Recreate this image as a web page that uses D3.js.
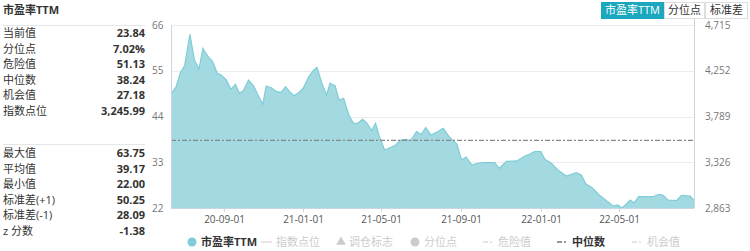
<!DOCTYPE html>
<html>
<head>
<meta charset="utf-8">
<script src="https://cdn.jsdelivr.net/npm/d3@7"></script>
<style>
  body { margin: 0; background: #fff; }
  svg { font-family: "Open Sans", "Noto Sans CJK SC", sans-serif; }
</style>
</head>
<body>
<svg id="fig" width="750" height="251"></svg>
<script>
// stats on the left
const statTop = [['当前值', '23.84'], ['分位点', '7.02%'], ['危险值', '51.13'], ['中位数', '38.24'], ['机会值', '27.18'], ['指数点位', '3,245.99']];
const statBottom = [['最大值', '63.75'], ['平均值', '39.17'], ['最小值', '22.00'], ['标准差(+1)', '50.25'], ['标准差(-1)', '28.09'], ['z 分数', '-1.38']];

const peDates = ['2020-06-12', '2020-06-20', '2020-06-26', '2020-07-03', '2020-07-11', '2020-07-18', '2020-07-25', '2020-07-31',
  '2020-08-08', '2020-08-15', '2020-08-22', '2020-08-28', '2020-09-05', '2020-09-12', '2020-09-19', '2020-09-25',
  '2020-10-01', '2020-10-09', '2020-10-17', '2020-10-23', '2020-10-31', '2020-11-05', '2020-11-13', '2020-11-21',
  '2020-11-28', '2020-12-05', '2020-12-11', '2020-12-18', '2020-12-25', '2021-01-01', '2021-01-09', '2021-01-16',
  '2021-01-22', '2021-01-30', '2021-02-06', '2021-02-11', '2021-02-19', '2021-02-25', '2021-03-04', '2021-03-12',
  '2021-03-19', '2021-03-26', '2021-04-02', '2021-04-08', '2021-04-16', '2021-04-22', '2021-04-28', '2021-05-06',
  '2021-05-16', '2021-05-23', '2021-05-31', '2021-06-08', '2021-06-15', '2021-06-24', '2021-07-01', '2021-07-08',
  '2021-07-16', '2021-07-26', '2021-08-04', '2021-08-13', '2021-08-25', '2021-09-01', '2021-09-08', '2021-09-17',
  '2021-09-27', '2021-10-08', '2021-10-22', '2021-10-29', '2021-11-09', '2021-11-25', '2021-12-06', '2021-12-15',
  '2021-12-23', '2022-01-01', '2022-01-07', '2022-01-17', '2022-01-27', '2022-02-09', '2022-02-17', '2022-02-24',
  '2022-03-04', '2022-03-11', '2022-03-20', '2022-04-01', '2022-04-11', '2022-04-22', '2022-04-29', '2022-05-05',
  '2022-05-12', '2022-05-18', '2022-05-24', '2022-05-31', '2022-06-09', '2022-06-22', '2022-07-01', '2022-07-07',
  '2022-07-15', '2022-07-28', '2022-08-05', '2022-08-18', '2022-08-24'];
const peValues = [49.34, 51.17, 54.39, 56.22, 63.75, 57.59, 55.42, 60.40,
  58.38, 57.18, 54.39, 53.98, 52.78, 50.54, 51.74, 49.58,
  50.21, 52.78, 51.34, 49.34, 46.94, 51.34, 50.93, 49.97,
  49.82, 51.17, 49.97, 49.00, 49.72, 50.78, 53.43, 54.94,
  55.83, 51.82, 49.17, 51.98, 51.41, 47.97, 48.38, 44.36,
  42.37, 42.37, 43.33, 42.56, 40.59, 42.37, 39.15, 35.95,
  36.60, 37.15, 38.35, 38.52, 38.19, 40.35, 39.68, 41.36,
  39.56, 40.35, 41.17, 39.15, 37.39, 33.55, 34.27, 32.34,
  32.82, 32.90, 32.90, 31.55, 33.19, 33.31, 34.39, 34.99,
  35.59, 35.54, 33.71, 32.75, 31.14, 29.70, 30.11, 30.49,
  29.94, 27.78, 26.94, 25.06, 23.81, 22.49, 22.73, 22.00,
  22.90, 23.93, 23.21, 24.72, 24.72, 24.72, 25.30, 25.13,
  23.93, 23.76, 25.06, 24.89, 23.84];

const leftTicks = [22, 33, 44, 55, 66];
const rightTicks = [2863, 3326, 3789, 4252, 4715];
const xTicks = ['2020-09-01', '2021-01-01', '2021-05-01', '2021-09-01', '2022-01-01', '2022-05-01'];
const median = 38.24;
const buttons = ['市盈率TTM', '分位点', '标准差'];
const legendItems = [
  { name: '市盈率TTM', type: 'circle', on: true },
  { name: '指数点位', type: 'line', on: false },
  { name: '调仓标志', type: 'triangle', on: false },
  { name: '分位点', type: 'circle', on: false },
  { name: '危险值', type: 'dash', on: false },
  { name: '中位数', type: 'dash', on: true },
  { name: '机会值', type: 'dash', on: false }
];

const svg = d3.select('#fig');
const parse = d3.timeParse('%Y-%m-%d');
const data = peDates.map((d, i) => ({ date: parse(d), value: peValues[i] }));

const margin = { left: 171, right: 694, top: 25, bottom: 208 };
const x = d3.scaleTime().domain(d3.extent(data, d => d.date)).range([margin.left, margin.right]);
const y = d3.scaleLinear().domain([22, 66]).range([margin.bottom, margin.top]);
const y2 = d3.scaleLinear().domain([2863, 4715]).range([margin.bottom, margin.top]);

// ---- left panel
svg.append('text').attr('x', 3).attr('y', 14).text('市盈率TTM')
  .attr('font-size', 11).attr('font-weight', 'bold').attr('fill', '#333');

const drawStats = (rows, sepY, firstY) => {
  svg.append('line').attr('x1', 3).attr('x2', 145).attr('y1', sepY).attr('y2', sepY)
    .attr('stroke', '#e6e6e6');
  const g = svg.append('g');
  rows.forEach((r, i) => {
    const yy = firstY + i * 15.5;
    g.append('text').attr('x', 3).attr('y', yy).attr('dy', '0.35em').text(r[0])
      .attr('font-size', 11).attr('fill', '#333');
    g.append('text').attr('x', 145).attr('y', yy).attr('dy', '0.35em').text(r[1])
      .attr('text-anchor', 'end').attr('font-size', 11).attr('font-weight', 'bold').attr('fill', '#333');
  });
};
drawStats(statTop, 25.5, 33.5);
drawStats(statBottom, 144.5, 153.5);

// ---- buttons
const btnX = [601, 664, 705, 748];
const btn = svg.append('g');
buttons.forEach((b, i) => {
  btn.append('rect').attr('x', btnX[i] + 0.5).attr('y', 2.5)
    .attr('width', btnX[i + 1] - btnX[i] - 1).attr('height', 16)
    .attr('fill', i === 0 ? '#1ba7bd' : '#fff').attr('stroke', i === 0 ? '#1ba7bd' : '#ddd');
  btn.append('text').attr('x', (btnX[i] + btnX[i + 1]) / 2).attr('y', 10.5).attr('dy', '0.35em')
    .attr('text-anchor', 'middle').attr('font-size', 11)
    .attr('fill', i === 0 ? '#fff' : '#333').text(b);
});

// ---- grid
svg.append('g').selectAll('line').data(leftTicks.slice(1)).join('line')
  .attr('x1', margin.left).attr('x2', margin.right)
  .attr('y1', d => Math.round(y(d)) + 0.5).attr('y2', d => Math.round(y(d)) + 0.5)
  .attr('stroke', '#ececec');

// ---- area
const area = d3.area().x(d => x(d.date)).y0(y(22)).y1(d => y(d.value));
const line = d3.line().x(d => x(d.date)).y(d => y(d.value));
svg.append('path').datum(data).attr('d', area).attr('fill', '#a3d9e0');
svg.append('path').datum(data).attr('d', line).attr('fill', 'none')
  .attr('stroke', '#7fcdd6').attr('stroke-width', 1.2);

// median
svg.append('line').attr('x1', margin.left).attr('x2', margin.right)
  .attr('y1', y(median)).attr('y2', y(median))
  .attr('stroke', '#888').attr('stroke-width', 1.2).attr('stroke-dasharray', '5,2,2,2');

// ---- axes
const axisColor = '#c9d6e3';
svg.append('line').attr('x1', margin.left + 0.5).attr('x2', margin.left + 0.5)
  .attr('y1', margin.top).attr('y2', margin.bottom).attr('stroke', axisColor);
svg.append('line').attr('x1', margin.right + 0.5).attr('x2', margin.right + 0.5)
  .attr('y1', 18).attr('y2', margin.bottom).attr('stroke', axisColor);
svg.append('line').attr('x1', margin.left).attr('x2', margin.right)
  .attr('y1', margin.bottom + 0.5).attr('y2', margin.bottom + 0.5).attr('stroke', axisColor);

svg.append('g').selectAll('text').data(leftTicks).join('text')
  .attr('x', 152).attr('y', d => y(d)).attr('dy', '0.35em').text(d => d)
  .attr('font-size', 10).attr('fill', '#777');

const fmt = d3.format(',');
svg.append('g').selectAll('text').data(rightTicks).join('text')
  .attr('x', 705).attr('y', d => y2(d)).attr('dy', '0.35em').text(d => fmt(d))
  .attr('font-size', 10).attr('fill', '#777');

const xt = svg.append('g');
const tf = d3.timeFormat('%y-%m-%d');
xTicks.map(parse).forEach(t => {
  const px = Math.round(x(t)) + 0.5;
  xt.append('line').attr('x1', px).attr('x2', px).attr('y1', margin.bottom).attr('y2', margin.bottom + 4)
    .attr('stroke', axisColor);
  xt.append('text').attr('x', px).attr('y', 219).attr('dy', '0.35em').attr('text-anchor', 'middle')
    .attr('font-size', 10).attr('fill', '#555').text(tf(t));
});

// ---- legend
const legX = [192, 261, 341, 415, 483, 557, 632];
const lg = svg.append('g');
legendItems.forEach((it, i) => {
  const c = it.on ? (it.type === 'circle' ? '#7fcdd6' : '#333') : '#ccc';
  const tc = it.on ? '#333' : '#ccc';
  const lx = legX[i], ly = 242;
  let tx = lx + 10;
  if (it.type === 'circle') {
    lg.append('circle').attr('cx', lx).attr('cy', ly).attr('r', 4.5).attr('fill', c);
    tx = lx + 9;
  } else if (it.type === 'triangle') {
    lg.append('path').attr('d', d3.symbol(d3.symbolTriangle, 40)()).attr('transform', `translate(${lx},${ly})`)
      .attr('fill', c);
    tx = lx + 8;
  } else if (it.type === 'line') {
    lg.append('line').attr('x1', lx).attr('x2', lx + 11).attr('y1', ly).attr('y2', ly).attr('stroke', c);
    tx = lx + 15;
  } else {
    lg.append('line').attr('x1', lx).attr('x2', lx + 11).attr('y1', ly).attr('y2', ly).attr('stroke', c)
      .attr('stroke-width', 1.2).attr('stroke-dasharray', '5,2,2,2');
    tx = lx + 15;
  }
  lg.append('text').attr('x', tx).attr('y', ly).attr('dy', '0.35em').attr('font-size', 11)
    .attr('fill', tc).attr('font-weight', it.on ? 'bold' : 'normal').text(it.name);
});
</script>
</body>
</html>
